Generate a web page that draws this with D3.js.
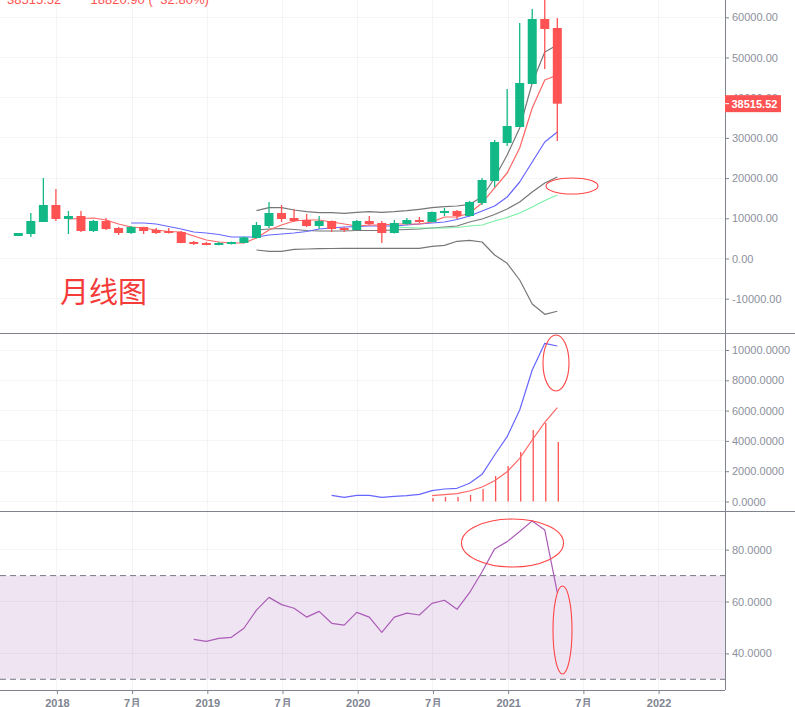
<!DOCTYPE html>
<html>
<head>
<meta charset="utf-8">
<script src="https://cdn.jsdelivr.net/npm/d3@7/dist/d3.min.js"></script>
<style>
html,body{margin:0;padding:0;background:#fff;overflow:hidden}
svg{display:block}
</style>
</head>
<body>
<svg id="c" width="795" height="707"></svg>
<script>
// Monthly candles, 2017-10 onward (index 0)
const opens  = [5600,6090,9080,13310,9830,10570,6840,9330,7590,6340,7840,7090,6840,6590,4100,3860,3360,3600,3860,5100,8085,11320,10075,9580,8085,9330,7590,7090,9330,8830,6340,8580,9580,9080,11320,11820,10570,13800,19280,28730,32710,43410,59580,57340];
const highs  = [6340,11320,20025,17290,11820,11820,9580,10075,7840,8085,7900,7590,7590,6840,4350,4100,4100,4200,5500,9080,14055,13310,12310,11070,10570,9450,7840,9580,10570,9330,9580,10075,10320,11700,12560,12060,14300,20000,29480,42165,58600,62070,65000,59830];
const lows   = [5600,5350,9080,9330,6090,6590,6590,7090,5850,6090,6090,6090,6200,3800,3350,3300,3300,3500,3800,5000,7590,9080,9080,7840,7340,6590,6590,7000,8330,3860,6200,8400,8830,9000,10570,9830,10400,13300,17790,27990,32700,43400,47140,29230];
const closes = [6340,9330,13310,9830,10570,6840,9330,7340,6340,7840,6840,6340,6340,3860,3600,3360,3860,4100,5270,8330,11320,9830,9330,8085,9330,7340,7090,9330,8580,6340,8830,9580,9080,11570,11820,10570,14055,19530,28980,32960,43660,59580,57090,38515.52];

const redStart = 4;
const redMA = [9830,9950,10070,9580,8580,7840,7590,7090,6720,6590,5600,4600,4100,3860,3860,5100,7090,8330,9330,9580,9580,9080,8580,8080,8330,8330,8580,8580,8580,9080,10320,10320,11320,13810,17540,21270,27490,37440,44400,45650];
const blueStart = 9;
const blueMA = [8830,8830,8580,7960,7340,6590,6340,5970,5350,5350,5350,5850,6090,6340,6720,7340,7590,7840,7960,8080,8080,8080,8330,8580,8830,9080,9700,10570,11820,13060,15300,19030,24010,28980,31470];
const greenStart = 30;
const greenMA = [7840,7710,7590,7590,7590,7710,8080,8330,9330,10200,11320,12810,14430,15800];
const bollStart = 19;
const bollUpper = [11890,12640,12640,12060,11640,11390,11390,11240,11490,11640,11490,11640,11890,12240,12640,12890,13060,13480,15300,20030,25750,32460,43660,51370,53110];
const bollMid = [7090,7340,7460,7210,6970,6840,6840,6840,6970,6970,6970,7090,7210,7340,7590,7840,8080,9080,9830,10950,12310,14060,16540,18780,20270];
const bollLower = [2110,1790,1790,2290,2360,2440,2490,2540,2540,2540,2540,2540,2540,2540,3030,3280,4280,4530,4100,870,-1190,-5350,-11320,-13880,-13130];

const macdStart = 25;
const macdFast = [409,277,409,409,277,343,383,475,713,825,871,1201,1795,3069,4277,6039,8679,10441,10263];
const signalStart = 33;
const macdSignal = [383,449,515,693,957,1373,1967,2851,4059,5227,6191];
const macdHist = [231,297,297,429,825,1683,2343,3267,4719,5181,3927];

const rsiStart = 14;
const rsi = [45.4,44.6,45.8,46.2,49.7,56.7,61.6,58.8,57.4,54.0,56.2,51.6,50.9,55.8,54.0,48.1,54.0,55.5,54.8,59.3,60.5,57.0,63.4,71.5,80.3,83.1,87.0,91.1,87.6,63.4];

const timeTicks = [3,9,15,21,27,33,39,45,51];
const timeLabels = ["2018","7月","2019","7月","2020","7月","2021","7月","2022"];
const priceTicks = [60000,50000,40000,30000,20000,10000,0,-10000];
const macdTicks = [10000,8000,6000,4000,2000,0];
const rsiTicks = [80,60,40];
const lastPrice = 38515.52;
const headerPrice = "38515.52";
const headerChange = "−18820.90 (−32.80%)";
const noteText = "月线图";

const GREEN="#12B886", RED="#FF5252", AXIS="#7F838E", LABEL="#8C909C", GRID="#F4F4F6";
const FONT="Arial,'Liberation Sans',sans-serif";
const plotRight=725, sep1=333.5, sep2=511, bottom=690;

const svg=d3.select("#c");
const x=d3.scaleLinear([0,43],[18.3,557.3]);
const yP=d3.scaleLinear([0,60000],[258.5,17.3]);
const yM=d3.scaleLinear([0,10000],[501.5,350]);
const yR=d3.scaleLinear([30,70],[679.3,575.6]);
const gx=i=>x(i)+1;

const defs=svg.append("defs");
defs.append("clipPath").attr("id","p1").append("rect").attr("width",plotRight).attr("height",sep1);

// RSI band
svg.append("rect").attr("x",0).attr("width",plotRight)
  .attr("y",yR(70)).attr("height",yR(30)-yR(70))
  .attr("fill","#7B1F8A").attr("fill-opacity",0.12);

// grid
const grid=svg.append("g").attr("stroke","#6b6b80").attr("stroke-opacity",0.07).attr("stroke-width",1).attr("shape-rendering","crispEdges");
grid.selectAll(".v").data(timeTicks).join("line")
  .attr("x1",gx).attr("x2",gx).attr("y1",0).attr("y2",bottom);
[[priceTicks,yP],[macdTicks,yM],[rsiTicks,yR]].forEach(([t,s])=>{
  grid.append("g").selectAll("line").data(t).join("line")
    .attr("x1",0).attr("x2",plotRight).attr("y1",s).attr("y2",s);
});

[70,30].forEach(v=>svg.append("line").attr("x1",0).attr("x2",plotRight).attr("y1",yR(v)).attr("y2",yR(v))
  .attr("stroke","#787B86").attr("stroke-dasharray","6 4").attr("stroke-width",1));

function drawLine(g,vals,start,scale,color,w){
  const l=d3.line().x((d,i)=>x(i+start)).y(d=>scale(d));
  g.append("path").attr("d",l(vals)).attr("fill","none").attr("stroke",color).attr("stroke-width",w||1.2)
    .attr("stroke-linejoin","round");
}

// price pane
const p1=svg.append("g").attr("clip-path","url(#p1)");
drawLine(p1,bollUpper,bollStart,yP,"#777");
drawLine(p1,bollMid,bollStart,yP,"#777");
drawLine(p1,bollLower,bollStart,yP,"#777");
drawLine(p1,greenMA,greenStart,yP,"#7CF0A5");
drawLine(p1,blueMA,blueStart,yP,"#6666FF");
drawLine(p1,redMA,redStart,yP,"#FF6666");

const bw=9;
const candles=p1.selectAll("g.c").data(d3.range(opens.length)).join("g");
candles.append("line").attr("x1",x).attr("x2",x)
  .attr("y1",i=>yP(highs[i])).attr("y2",i=>yP(lows[i]))
  .attr("stroke",i=>closes[i]>=opens[i]?GREEN:RED).attr("stroke-width",1.3);
candles.append("rect").attr("x",i=>x(i)-bw/2).attr("width",bw)
  .attr("y",i=>yP(Math.max(opens[i],closes[i])))
  .attr("height",i=>Math.abs(yP(opens[i])-yP(closes[i])))
  .attr("fill",i=>closes[i]>=opens[i]?GREEN:RED);

// header (cut off by the top edge)
const hdr=svg.append("g").attr("fill","#FF5252").attr("font-family",FONT).attr("font-size",13);
hdr.append("text").attr("x",7).attr("y",4).text(headerPrice);
hdr.append("text").attr("x",83).attr("y",4).text(headerChange);

// note
svg.append("text").attr("x",60).attr("y",303).attr("fill","#F53A3A")
  .attr("font-family","'Noto Sans CJK SC',sans-serif").attr("font-size",29).attr("font-weight",400).text(noteText);

// macd pane
const p2=svg.append("g");
p2.selectAll("rect").data(macdHist).join("rect")
  .attr("x",(d,i)=>gx(i+signalStart)-0.65).attr("width",1.3)
  .attr("y",d=>yM(d)).attr("height",d=>yM(0)-yM(d)).attr("fill",RED);
drawLine(p2,macdFast,macdStart,yM,"#6666FF");
drawLine(p2,macdSignal,signalStart,yM,"#FF6666");

// rsi pane
drawLine(svg.append("g"),rsi,rsiStart,yR,"#AB5CB8",1.2);

// hand-drawn ellipses
const ellipses=[[572,186,26,8],[556,363,13,28],[512.5,543,51,24],[562.5,630,9.5,44]];
svg.append("g").selectAll("ellipse").data(ellipses).join("ellipse")
  .attr("cx",d=>d[0]).attr("cy",d=>d[1]).attr("rx",d=>d[2]).attr("ry",d=>d[3])
  .attr("fill","none").attr("stroke","#F44").attr("stroke-width",1.1);

// axes frame
const frame=svg.append("g").attr("stroke",AXIS).attr("stroke-width",1).attr("shape-rendering","crispEdges");
frame.append("line").attr("x1",plotRight).attr("x2",plotRight).attr("y1",0).attr("y2",bottom);
frame.append("line").attr("x1",0).attr("x2",795).attr("y1",sep1).attr("y2",sep1);
frame.append("line").attr("x1",0).attr("x2",795).attr("y1",sep2).attr("y2",sep2);
frame.append("line").attr("x1",0).attr("x2",plotRight).attr("y1",bottom).attr("y2",bottom);

function yAxis(ticks,scale,fmt){
  const g=svg.append("g").attr("transform",`translate(${plotRight},0)`)
    .call(d3.axisRight(scale).tickValues(ticks).tickFormat(fmt).tickSize(4).tickPadding(3));
  g.select(".domain").remove();
  g.selectAll("line").attr("stroke",AXIS);
  g.selectAll("text").attr("fill",LABEL).attr("font-family",FONT).attr("font-size",11);
}
yAxis(priceTicks,yP,d=>d3.format(".2f")(d).replace("−","-"));
yAxis(macdTicks,yM,d=>d3.format(".4f")(d));
yAxis(rsiTicks,yR,d=>d3.format(".4f")(d));

// x axis
const xa=svg.append("g").attr("transform",`translate(0,${bottom})`)
  .call(d3.axisBottom(d3.scaleLinear([0,43],[x(0)+1,x(43)+1])).tickValues(timeTicks)
    .tickFormat((d,i)=>timeLabels[i]).tickSize(4).tickPadding(5));
xa.select(".domain").remove();
xa.selectAll("line").attr("stroke",AXIS);
xa.selectAll("text").attr("fill","#808490").attr("font-family",FONT).attr("font-size",11).attr("font-weight",700);

// last price tag
const tag=svg.append("g");
tag.append("rect").attr("x",plotRight).attr("width",56).attr("y",yP(lastPrice)-8.5).attr("height",17).attr("fill",RED);
tag.append("line").attr("x1",plotRight).attr("x2",plotRight+4).attr("y1",yP(lastPrice)).attr("y2",yP(lastPrice)).attr("stroke","#fff");
tag.append("text").attr("x",plotRight+6.5).attr("y",yP(lastPrice)+4).attr("fill","#fff")
  .attr("font-family",FONT).attr("font-size",11).attr("font-weight",700).text(lastPrice.toFixed(2));
</script>
</body>
</html>
